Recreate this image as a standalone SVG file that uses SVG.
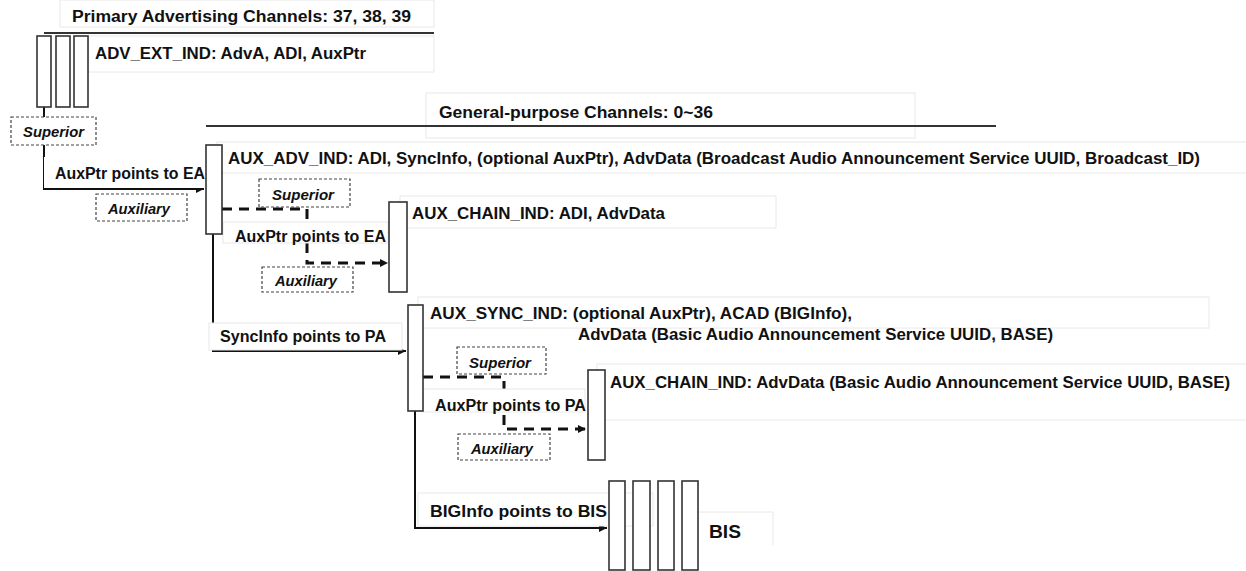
<svg xmlns="http://www.w3.org/2000/svg" width="1246" height="571" viewBox="0 0 1246 571">
<defs>
<style>
text{font-family:"Liberation Sans",Arial,sans-serif;font-weight:bold;fill:#111;}
.t{font-size:16px;}
.s{font-size:14px;font-style:italic;}
.tb{fill:#fff;stroke:#e8e8e8;stroke-width:1;}
.pkt{fill:#fff;stroke:#333;stroke-width:1.6;}
.role{fill:#fff;stroke:#444;stroke-width:1.2;stroke-dasharray:3,2;}
.ch{stroke:#333;stroke-width:2;fill:none;}
.sol{stroke:#111;stroke-width:2;fill:none;}
.dsh{stroke:#111;stroke-width:3;fill:none;stroke-dasharray:10,7;}
</style>
<marker id="ah" viewBox="0 0 10 10" refX="10" refY="5" markerWidth="10" markerHeight="8" markerUnits="userSpaceOnUse" orient="auto">
<path d="M0,0 L10,5 L0,10 z" fill="#111"/>
</marker>
</defs>

<!-- text frames (faint) -->
<g id="frames">
<rect class="tb" x="60" y="0" width="374" height="27"/>
<rect class="tb" x="88" y="36" width="346" height="36"/>
<rect class="tb" x="426" y="93" width="489" height="45"/>
<rect class="tb" x="217" y="142" width="1040" height="31"/>
<rect class="tb" x="400" y="196" width="376" height="32"/>
<rect class="tb" x="418" y="297" width="791" height="31"/>
<rect class="tb" x="597" y="364" width="660" height="56"/>
</g>

<g id="channels">
<text class="t" x="72" y="22" textLength="339" lengthAdjust="spacingAndGlyphs">Primary Advertising Channels: 37, 38, 39</text>
<line class="ch" x1="44" y1="33" x2="434" y2="33"/>
<text class="t" x="439" y="118" textLength="274" lengthAdjust="spacingAndGlyphs">General-purpose Channels: 0~36</text>
<line class="ch" x1="206" y1="126" x2="996" y2="126"/>
</g>

<g id="connectors">
<polyline class="sol" points="44,107 44,189 204,189" marker-end="url(#ah)"/>
<polyline class="dsh" points="222,209 307,209 307,263 388,263" marker-end="url(#ah)"/>
<polyline class="sol" points="213,234 213,351 406,351" marker-end="url(#ah)"/>
<polyline class="dsh" points="423,377 504,377 504,429 586,429" marker-end="url(#ah)"/>
<polyline class="sol" points="415,411 415,528 607,528" marker-end="url(#ah)"/>
</g>

<g id="label-auxptr-ea-1">
<rect class="tb" x="44" y="157" width="161" height="31" style="stroke:none"/>
<text class="t" x="55" y="179" textLength="150" lengthAdjust="spacingAndGlyphs">AuxPtr points to EA</text>
</g>
<g id="label-auxptr-ea-2">
<rect class="tb" x="223" y="222" width="165" height="21"/>
<text class="t" x="235" y="242" textLength="151" lengthAdjust="spacingAndGlyphs">AuxPtr points to EA</text>
</g>
<g id="label-syncinfo">
<rect class="tb" x="209" y="323" width="193" height="27"/>
<text class="t" x="220" y="342" textLength="166" lengthAdjust="spacingAndGlyphs">SyncInfo points to PA</text>
</g>
<g id="label-auxptr-pa">
<rect class="tb" x="423" y="389" width="162" height="23"/>
<text class="t" x="435" y="411" textLength="151" lengthAdjust="spacingAndGlyphs">AuxPtr points to PA</text>
</g>
<g id="label-biginfo">
<rect class="tb" x="418" y="493" width="235" height="33"/>
<text class="t" x="430" y="517" textLength="177" lengthAdjust="spacingAndGlyphs">BIGInfo points to BIS</text>
</g>

<g id="adv-ext-ind">
<rect class="pkt" x="37" y="36" width="14" height="71"/>
<rect class="pkt" x="56" y="36" width="14" height="71"/>
<rect class="pkt" x="74" y="36" width="14" height="71"/>
<text class="t" x="95" y="59" textLength="271" lengthAdjust="spacingAndGlyphs">ADV_EXT_IND: AdvA, ADI, AuxPtr</text>
</g>

<g id="role-superior-1">
<rect class="role" x="11" y="117" width="85" height="28"/>
<text class="s" x="23" y="137" textLength="61" lengthAdjust="spacingAndGlyphs">Superior</text>
</g>
<g id="role-auxiliary-1">
<rect class="role" x="96" y="194" width="91" height="27"/>
<text class="s" x="108" y="214" textLength="62" lengthAdjust="spacingAndGlyphs">Auxiliary</text>
</g>

<g id="aux-adv-ind">
<rect class="pkt" x="206" y="145" width="16" height="89"/>
<text class="t" x="228" y="164" textLength="972" lengthAdjust="spacingAndGlyphs">AUX_ADV_IND: ADI, SyncInfo, (optional AuxPtr),  AdvData (Broadcast Audio Announcement Service UUID, Broadcast_ID)</text>
</g>

<g id="role-superior-2">
<rect class="role" x="259" y="179" width="91" height="28"/>
<text class="s" x="272" y="200" textLength="62" lengthAdjust="spacingAndGlyphs">Superior</text>
</g>
<g id="role-auxiliary-2">
<rect class="role" x="262" y="267" width="91" height="25"/>
<text class="s" x="275" y="286" textLength="62" lengthAdjust="spacingAndGlyphs">Auxiliary</text>
</g>

<g id="aux-chain-ind-1">
<rect class="pkt" x="389" y="202" width="18" height="90"/>
<text class="t" x="412" y="219" textLength="253" lengthAdjust="spacingAndGlyphs">AUX_CHAIN_IND: ADI, AdvData</text>
</g>

<g id="aux-sync-ind">
<rect class="pkt" x="408" y="305" width="15" height="106"/>
<text class="t" x="430" y="319" textLength="422" lengthAdjust="spacingAndGlyphs">AUX_SYNC_IND: (optional AuxPtr), ACAD (BIGInfo),</text>
<text class="t" x="578" y="340" textLength="475" lengthAdjust="spacingAndGlyphs">AdvData (Basic Audio Announcement Service UUID, BASE)</text>
</g>

<g id="role-superior-3">
<rect class="role" x="457" y="347" width="89" height="27"/>
<text class="s" x="469" y="368" textLength="62" lengthAdjust="spacingAndGlyphs">Superior</text>
</g>
<g id="role-auxiliary-3">
<rect class="role" x="458" y="434" width="92" height="26"/>
<text class="s" x="471" y="454" textLength="62" lengthAdjust="spacingAndGlyphs">Auxiliary</text>
</g>

<g id="aux-chain-ind-2">
<rect class="pkt" x="588" y="370" width="17" height="90"/>
<text class="t" x="610" y="388" textLength="620" lengthAdjust="spacingAndGlyphs">AUX_CHAIN_IND: AdvData (Basic Audio Announcement Service UUID, BASE)</text>
</g>

<g id="bis">
<path d="M698,512 H773 V545" fill="#fff" stroke="#e8e8e8" stroke-width="1"/>
<rect class="pkt" x="609" y="481" width="16" height="89"/>
<rect class="pkt" x="633" y="481" width="17" height="89"/>
<rect class="pkt" x="658" y="481" width="16" height="89"/>
<rect class="pkt" x="682" y="481" width="16" height="89"/>
<text class="t" x="709" y="538" style="font-size:18px" textLength="32" lengthAdjust="spacingAndGlyphs">BIS</text>
</g>
</svg>
